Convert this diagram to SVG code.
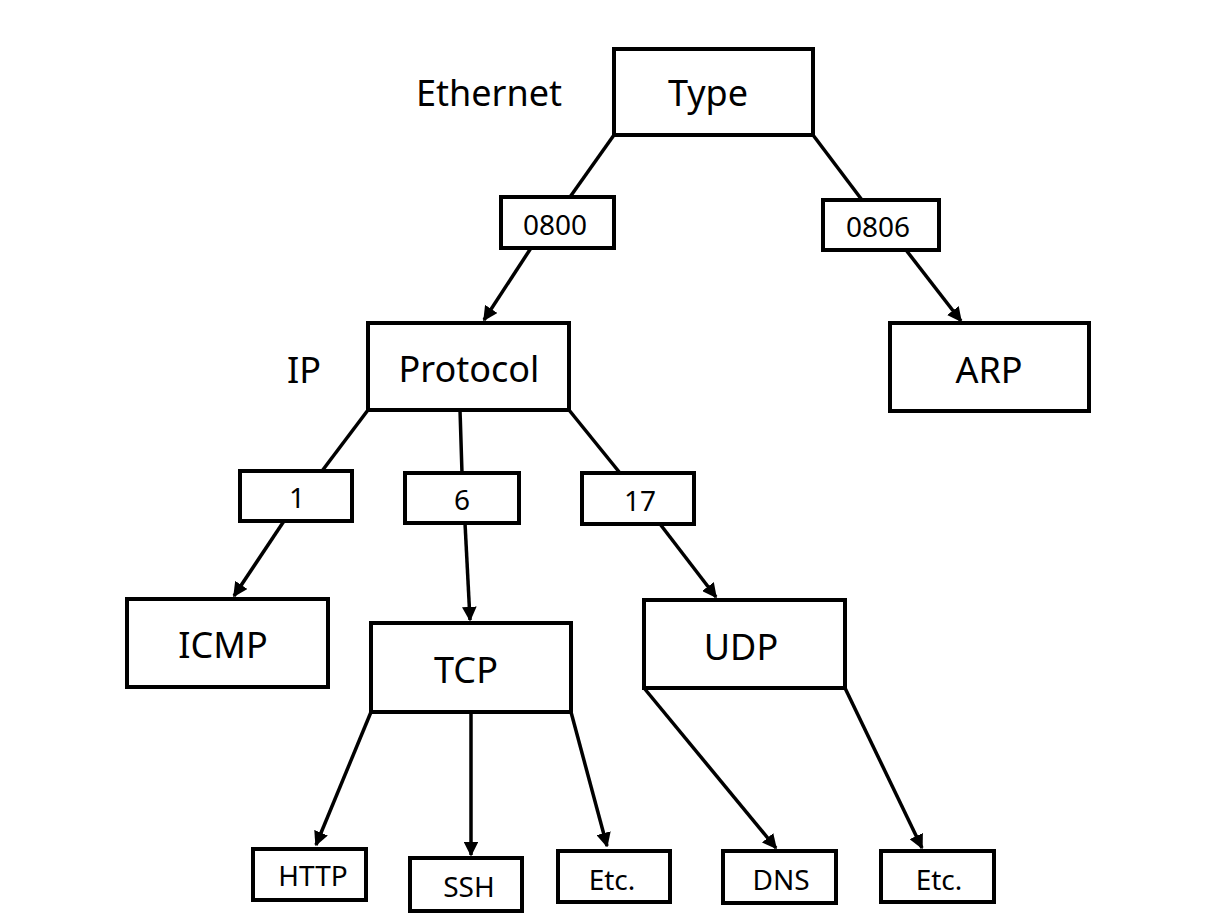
<svg xmlns="http://www.w3.org/2000/svg" width="1207" height="919" viewBox="0 0 1207 919">
<style>
.box{fill:#fff;stroke:#000;stroke-width:4}
.t{font-family:"Noto Sans","Open Sans",sans-serif;text-anchor:middle;fill:#000}
.big{font-size:36px}
.sm{font-size:28px}
.c{stroke:#000;stroke-width:3.5;fill:none}
.a{marker-end:url(#ah)}
</style>
<defs>
<marker id="ah" viewBox="0 0 10 10" refX="9" refY="5" markerWidth="4.2" markerHeight="4.2" orient="auto" markerUnits="strokeWidth">
<path d="M0,0 L10,5 L0,10 z" fill="#000"/>
</marker>
</defs>
<rect width="1207" height="919" fill="#fff"/>
<g id="connectors">
<line class="c" x1="614" y1="135" x2="570" y2="197"/>
<line class="c" x1="813" y1="135" x2="862" y2="200"/>
<line class="c a" x1="531" y1="248" x2="484" y2="320"/>
<line class="c a" x1="906" y1="250" x2="961" y2="321"/>
<line class="c" x1="368" y1="410" x2="322" y2="471"/>
<line class="c" x1="460" y1="410" x2="462" y2="473"/>
<line class="c" x1="569" y1="410" x2="620" y2="473"/>
<line class="c a" x1="284" y1="521" x2="234" y2="596"/>
<line class="c a" x1="465" y1="523" x2="470" y2="620"/>
<line class="c a" x1="660" y1="524" x2="716" y2="597"/>
<line class="c a" x1="371" y1="712" x2="316" y2="845"/>
<line class="c a" x1="471" y1="712" x2="471" y2="855"/>
<line class="c a" x1="571" y1="712" x2="607" y2="846"/>
<line class="c a" x1="644" y1="688" x2="776" y2="848"/>
<line class="c a" x1="845" y1="688" x2="922" y2="848"/>
</g>
<g id="ethernet-label"><text class="t big" x="489" y="106">Ethernet</text></g>
<g id="type"><rect class="box" x="614" y="49" width="199" height="86"/><text class="t big" x="708" y="106">Type</text></g>
<g id="n0800"><rect class="box" x="501" y="197" width="113" height="51"/><text class="t sm" x="555" y="235">0800</text></g>
<g id="n0806"><rect class="box" x="823" y="200" width="116" height="50"/><text class="t sm" x="878" y="237">0806</text></g>
<g id="ip-label"><text class="t big" x="304" y="383">IP</text></g>
<g id="protocol"><rect class="box" x="368" y="323" width="201" height="87"/><text class="t big" x="469" y="382">Protocol</text></g>
<g id="arp"><rect class="box" x="890" y="323" width="199" height="88"/><text class="t big" x="989" y="383">ARP</text></g>
<g id="n1"><rect class="box" x="240" y="471" width="112" height="50"/><text class="t sm" x="297" y="508">1</text></g>
<g id="n6"><rect class="box" x="405" y="473" width="114" height="50"/><text class="t sm" x="462" y="510">6</text></g>
<g id="n17"><rect class="box" x="582" y="473" width="112" height="51"/><text class="t sm" x="640" y="511">17</text></g>
<g id="icmp"><rect class="box" x="127" y="599" width="201" height="88"/><text class="t big" x="223" y="658">ICMP</text></g>
<g id="tcp"><rect class="box" x="371" y="623" width="200" height="89"/><text class="t big" x="466" y="683">TCP</text></g>
<g id="udp"><rect class="box" x="644" y="600" width="201" height="88"/><text class="t big" x="741" y="660">UDP</text></g>
<g id="http"><rect class="box" x="253" y="849" width="113" height="51"/><text class="t sm" x="313" y="886">HTTP</text></g>
<g id="ssh"><rect class="box" x="410" y="858" width="112" height="53"/><text class="t sm" x="469" y="897">SSH</text></g>
<g id="etc1"><rect class="box" x="558" y="851" width="112" height="51"/><text class="t sm" x="612" y="890">Etc.</text></g>
<g id="dns"><rect class="box" x="723" y="851" width="113" height="52"/><text class="t sm" x="781" y="890">DNS</text></g>
<g id="etc2"><rect class="box" x="881" y="851" width="113" height="51"/><text class="t sm" x="939" y="890">Etc.</text></g>
</svg>
